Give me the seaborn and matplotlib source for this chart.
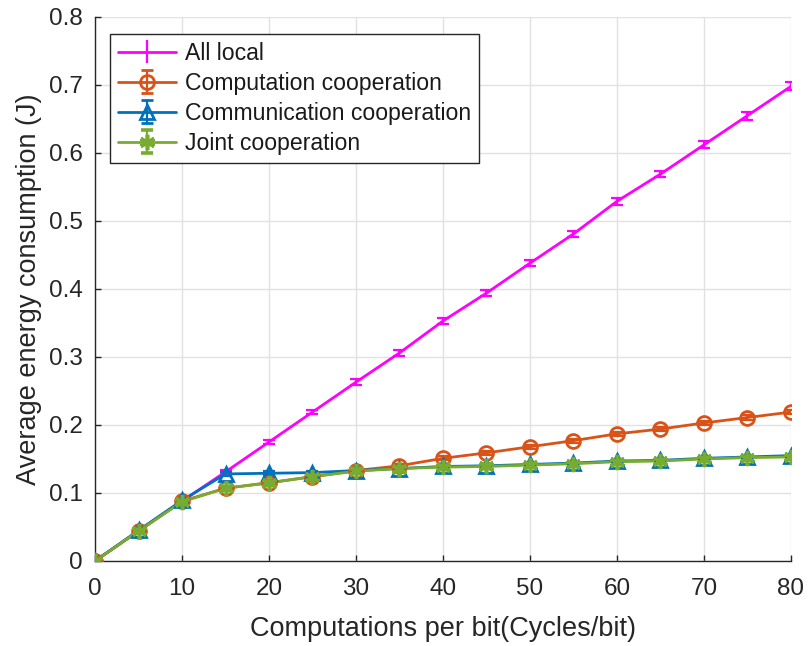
import numpy as np
import pandas as pd
import matplotlib
matplotlib.use("Agg")
import matplotlib.pyplot as plt
import seaborn as sns

# Computational load (cycles per bit)
cycles = [0, 5, 10, 15, 20, 25, 30, 35, 40, 45, 50, 55, 60, 65, 70, 75, 80]

# Average energy consumption (J) for each scheme
all_local = [0.000, 0.044, 0.088, 0.131, 0.175, 0.219, 0.263, 0.306, 0.353,
             0.394, 0.438, 0.481, 0.529, 0.569, 0.612, 0.655, 0.698]
comp_coop = [0.000, 0.044, 0.088, 0.107, 0.115, 0.124, 0.133, 0.140, 0.151,
             0.159, 0.168, 0.177, 0.187, 0.194, 0.203, 0.211, 0.219]
comm_coop = [0.000, 0.045, 0.089, 0.128, 0.129, 0.130, 0.133, 0.136, 0.139,
             0.140, 0.142, 0.144, 0.147, 0.148, 0.151, 0.153, 0.155]
joint_coop = [0.000, 0.044, 0.087, 0.107, 0.115, 0.124, 0.132, 0.136, 0.138,
              0.139, 0.141, 0.143, 0.146, 0.147, 0.150, 0.152, 0.153]

# Half-width of the error bars (J)
all_local_err = [0.000, 0.002, 0.003, 0.003, 0.003, 0.003, 0.004, 0.004, 0.004,
                 0.004, 0.004, 0.005, 0.005, 0.005, 0.005, 0.006, 0.006]
comp_coop_err = [0.000, 0.002, 0.002, 0.003, 0.003, 0.003, 0.003, 0.003, 0.003,
                 0.003, 0.003, 0.003, 0.003, 0.003, 0.003, 0.003, 0.003]
comm_coop_err = [0.000, 0.002, 0.002, 0.003, 0.003, 0.003, 0.003, 0.003, 0.003,
                 0.003, 0.003, 0.003, 0.003, 0.003, 0.003, 0.003, 0.003]
joint_coop_err = [0.000, 0.002, 0.002, 0.003, 0.003, 0.003, 0.003, 0.003, 0.003,
                  0.003, 0.003, 0.003, 0.003, 0.003, 0.003, 0.003, 0.003]

names = ["All local", "Computation cooperation",
         "Communication cooperation", "Joint cooperation"]
values = [all_local, comp_coop, comm_coop, joint_coop]
errors = [all_local_err, comp_coop_err, comm_coop_err, joint_coop_err]

x_ticks = [0, 10, 20, 30, 40, 50, 60, 70, 80]
y_ticks = [0, 0.1, 0.2, 0.3, 0.4, 0.5, 0.6, 0.7, 0.8]
y_tick_labels = ["0", "0.1", "0.2", "0.3", "0.4", "0.5", "0.6", "0.7", "0.8"]

colors = ["#FF00FF", "#D95319", "#0072BD", "#77AC30"]
markers = ["", "o", "^", (6, 2, 0)]
msizes = [0, 10, 10, 11]
medges = [0, 2.0, 2.0, 2.6]
mfaces = ["none", "none", "none", "#77AC30"]

df = pd.DataFrame({
    "cycles": cycles * 4,
    "energy": sum(values, []),
    "scheme": sum([[n] * len(cycles) for n in names], []),
})

sns.set_style("whitegrid")
plt.rcParams["font.family"] = ["Liberation Sans", "DejaVu Sans"]
text_color = "#262626"

fig = plt.figure(figsize=(8.10, 6.46), dpi=100)
ax = fig.add_axes([0.1173, 0.1316, 0.8592, 0.8421])

sns.lineplot(data=df, x="cycles", y="energy", hue="scheme",
             palette=dict(zip(names, colors)), hue_order=names,
             linewidth=2, legend=False, ax=ax, zorder=3)

handles = []
for i, (name, yv, ev, c, m, ms, mew, mf) in enumerate(
        zip(names, values, errors, colors, markers, msizes, medges, mfaces)):
    ax.errorbar(cycles, yv, yerr=ev, fmt="none", ecolor=c, elinewidth=1.6,
                capsize=4, capthick=1.6, zorder=4 + i)
    if m:
        ax.plot(cycles, yv, linestyle="none", marker=m, markersize=ms,
                markerfacecolor=mf, markeredgecolor=c, markeredgewidth=mew,
                zorder=4 + i)
    h = ax.errorbar([np.nan], [np.nan], yerr=[0.01], color=c, linewidth=2,
                    marker=m if m else None, markersize=ms,
                    markerfacecolor=mf, markeredgecolor=c,
                    markeredgewidth=mew, elinewidth=1.6, capsize=4,
                    capthick=1.6, label=name)
    handles.append(h)

ax.set_xlim(0, 80)
ax.set_ylim(0, 0.8)
ax.set_xticks(x_ticks)
ax.set_yticks(y_ticks)
ax.set_yticklabels(y_tick_labels)
ax.set_xlabel("Computations per bit(Cycles/bit)", fontsize=19.5,
              color=text_color, labelpad=12)
ax.set_ylabel("Average energy consumption (J)", fontsize=19.5,
              color=text_color, labelpad=5)
ax.tick_params(axis="both", labelsize=17.5, colors=text_color,
               direction="in", length=4, width=1,
               left=True, bottom=True)
ax.tick_params(axis="x", pad=12)
ax.tick_params(axis="y", pad=9)
ax.grid(True, color="#e1e1e1", linewidth=1)
for side in ["top", "right"]:
    ax.spines[side].set_visible(False)
for side in ["left", "bottom"]:
    ax.spines[side].set_color(text_color)
    ax.spines[side].set_linewidth(1)
ax.set_axisbelow(True)

leg = ax.legend(handles=handles, labels=names, loc="upper left",
                bbox_to_anchor=(0.022, 0.969), borderaxespad=0,
                fontsize=16.6, frameon=True, fancybox=False,
                handlelength=2.5, handletextpad=0.4, labelspacing=0.3,
                borderpad=0.35)
leg.get_frame().set_edgecolor(text_color)
leg.get_frame().set_linewidth(1)
leg.get_frame().set_alpha(1)
for t in leg.get_texts():
    t.set_color("#1a1a1a")

fig.savefig("out.png", dpi=100)
